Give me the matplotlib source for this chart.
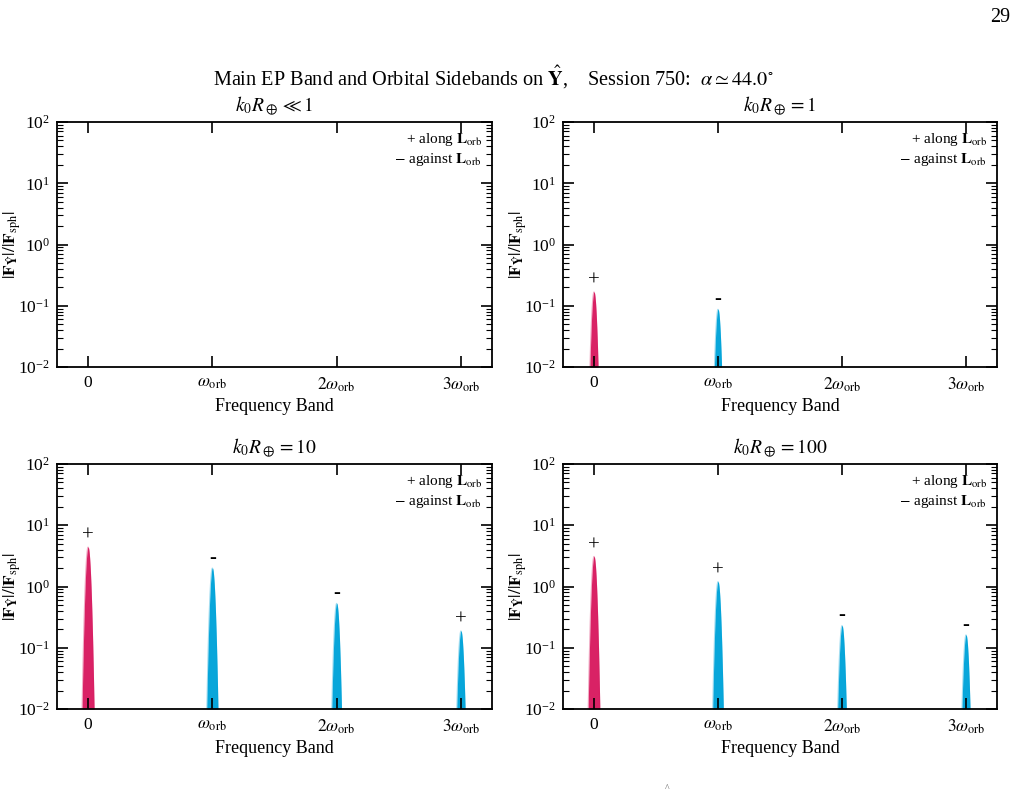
import numpy as np
import matplotlib
matplotlib.use("Agg")
import matplotlib.pyplot as plt
from matplotlib.ticker import LogLocator, NullFormatter, FixedLocator

plt.rcParams['font.family'] = ['Liberation Serif', 'DejaVu Serif']
plt.rcParams['mathtext.fontset'] = 'stix'

# ---- data ----
bands = [0, 1, 2, 3]
band_labels = ['0', r'$\omega_{\rm orb}$', r'$2\omega_{\rm orb}$', r'$3\omega_{\rm orb}$']
panel_titles = [r'$k_0R_\oplus \ll 1$', r'$k_0R_\oplus = 1$',
                r'$k_0R_\oplus = 10$', r'$k_0R_\oplus = 100$']
# amplitudes |F_Y|/|F_sph| per band (0 = below plotted range)
amp_k_small = [0.0, 0.0, 0.0, 0.0]
amp_k_1 = [0.168, 0.0875, 0.0, 0.0]
amp_k_10 = [4.4, 2.0, 0.53, 0.188]
amp_k_100 = [3.1, 1.2, 0.23, 0.162]
sign_k_small = [None, None, None, None]
sign_k_1 = ['+', '-', None, None]
sign_k_10 = ['+', '-', '-', '+']
sign_k_100 = ['+', '+', '-', '-']

amps = [amp_k_small, amp_k_1, amp_k_10, amp_k_100]
signs = [sign_k_small, sign_k_1, sign_k_10, sign_k_100]

main_color = '#D81B60'
side_color = '#00A3D9'
ymin, ymax = 1e-2, 1e2
sigma = 0.0139

fig = plt.figure(figsize=(10.16, 7.95), dpi=100)
W, H = 1016, 795
boxes = [(57, 122, 492, 367), (563, 122, 997, 367),
         (57, 464, 492, 709), (563, 464, 997, 709)]

fig.text(493 / W, 1 - 77 / H,
         r'Main EP Band and Orbital Sidebands on $\hat{\mathbf{Y}}$,    Session 750:  $\alpha \simeq 44.0^{\circ}$',
         ha='center', va='center', fontsize=14.6)
fig.text(1010 / W, 1 - 18 / H, '29', ha='right', va='center', fontsize=14.5)
fig.text(667 / W, 2 / H, '^', ha='center', va='bottom', fontsize=7, color='#666666')

for i, (x0, y0, x1, y1) in enumerate(boxes):
    ax = fig.add_axes([x0 / W, 1 - y1 / H, (x1 - x0) / W, (y1 - y0) / H])
    ax.set_yscale('log')
    ax.set_ylim(ymin, ymax)
    ax.set_xlim(-0.25, 3.25)
    for b, a, s in zip(bands, amps[i], signs[i]):
        if a <= 0:
            continue
        xs = np.linspace(b - 6 * sigma, b + 6 * sigma, 200)
        ys = a * np.exp(-0.5 * ((xs - b) / sigma) ** 2)
        col = main_color if b == 0 else side_color
        ax.fill_between(xs, ymin, ys, where=ys > ymin, color=col, lw=0, alpha=0.97, zorder=1)
        ax.plot(xs, np.clip(ys, ymin * 0.5, None), color=col, lw=0.8, alpha=0.35, zorder=1)
        if s is not None:
            if s == '+':
                ax.text(b, a * 1.5, '+', ha='center', va='center', fontsize=15)
            else:
                ax.text(b, a * 1.45, '-', ha='center', va='center', fontsize=15)
    ax.xaxis.set_major_locator(FixedLocator(bands))
    ax.set_xticklabels(band_labels, fontsize=12.5)
    ax.yaxis.set_major_locator(LogLocator(base=10, numticks=10))
    ax.yaxis.set_minor_locator(LogLocator(base=10, subs=np.arange(2, 10), numticks=20))
    ax.yaxis.set_minor_formatter(NullFormatter())
    ax.tick_params(axis='both', which='major', direction='in', length=8, width=1.2,
                   top=True, right=True, labelsize=12.5)
    ax.tick_params(axis='y', which='minor', direction='in', length=4, width=0.8, right=True)
    ax.tick_params(axis='x', which='major', pad=6)
    ax.tick_params(axis='y', which='major', pad=5)
    for sp in ax.spines.values():
        sp.set_linewidth(1.3)
    ax.set_xlabel('Frequency Band', fontsize=13, labelpad=3)
    ax.set_ylabel(r'$|\mathbf{F}_{\hat{\mathbf{Y}}}|/|\mathbf{F}_{\rm sph}|$', fontsize=12.5)
    ax.yaxis.set_label_coords(-0.078, 0.5)
    ax.set_title(panel_titles[i], fontsize=14, pad=8)
    ax.text(0.977, 0.93, r'+ along $\mathbf{L}_{\rm orb}$', transform=ax.transAxes,
            ha='right', va='center', fontsize=11)
    ax.text(0.977, 0.845, r'$-$ against $\mathbf{L}_{\rm orb}$', transform=ax.transAxes,
            ha='right', va='center', fontsize=11)

fig.savefig('out.png', dpi=100)
